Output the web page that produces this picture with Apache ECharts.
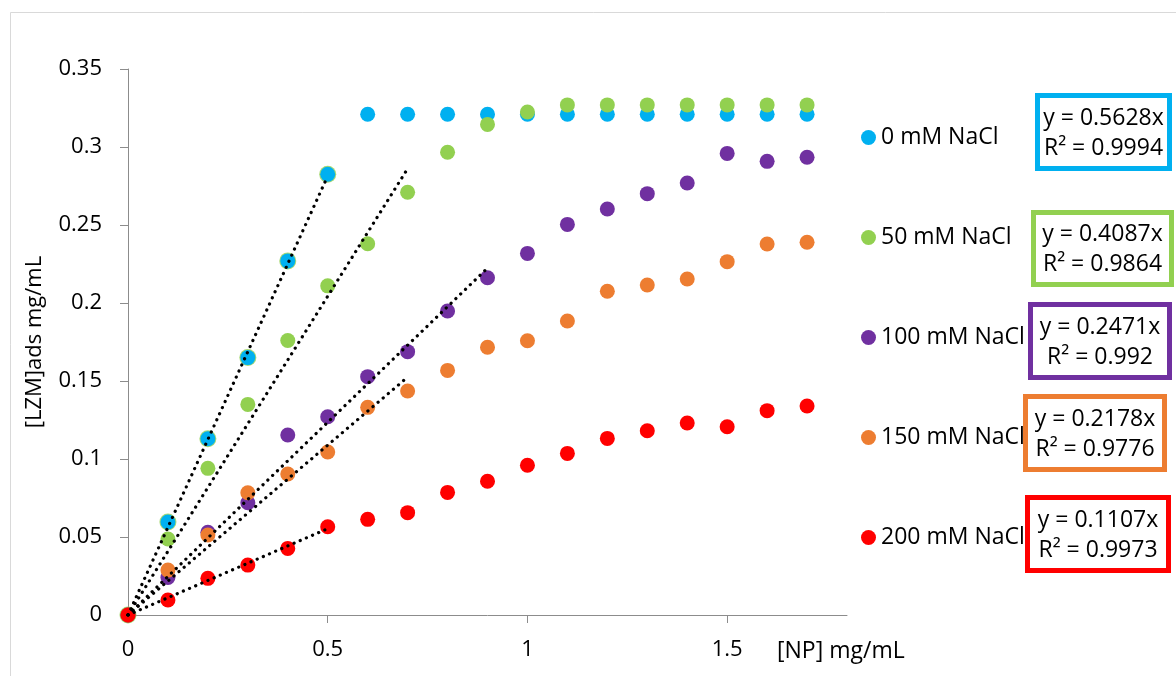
<!DOCTYPE html>
<html>
<head>
<meta charset="utf-8">
<script src="https://cdn.jsdelivr.net/npm/echarts@6/dist/echarts.min.js"></script>
<style>
  html, body { margin: 0; padding: 0; background: #fff; }
  #chart { width: 1176px; height: 676px; }
</style>
</head>
<body>
<div id="chart"></div>
<script>
// NP concentration (mg/mL) for every measurement
const npConc = [0, 0.1, 0.2, 0.3, 0.4, 0.5, 0.6, 0.7, 0.8, 0.9, 1.0, 1.1, 1.2, 1.3, 1.4, 1.5, 1.6, 1.7];

// Adsorbed lysozyme (mg/mL) at each salt concentration
const lzm0 = [0, 0.0596, 0.113, 0.165, 0.227, 0.2825, 0.321, 0.321, 0.321, 0.321, 0.321, 0.321, 0.321, 0.321, 0.321, 0.321, 0.321, 0.321];
const lzm50 = [0, 0.0487, 0.094, 0.135, 0.176, 0.211, 0.238, 0.271, 0.2966, 0.3145, 0.3224, 0.327, 0.327, 0.327, 0.327, 0.327, 0.327, 0.327];
const lzm100 = [0, 0.024, 0.053, 0.072, 0.1154, 0.1271, 0.1528, 0.1688, 0.1949, 0.2162, 0.2318, 0.2504, 0.2603, 0.2701, 0.2769, 0.2959, 0.2908, 0.2934];
const lzm150 = [0, 0.0288, 0.0513, 0.0784, 0.0904, 0.1045, 0.1331, 0.1436, 0.1568, 0.1716, 0.1758, 0.1885, 0.2075, 0.2115, 0.2154, 0.2265, 0.2378, 0.2389];
const lzm200 = [0, 0.0096, 0.0235, 0.032, 0.0427, 0.0566, 0.0613, 0.0656, 0.0786, 0.0857, 0.096, 0.1036, 0.1132, 0.1181, 0.1231, 0.1207, 0.131, 0.134];

const seriesNames = ['0 mM NaCl', '50 mM NaCl', '100 mM NaCl', '150 mM NaCl', '200 mM NaCl'];
const seriesColors = ['#00B0F0', '#92D050', '#7030A0', '#ED7D31', '#FF0000'];

// Linear fits through the origin (initial slope of each isotherm)
const fitSlopes = [0.5628, 0.4087, 0.2471, 0.2178, 0.1107];
const fitR2 = ['0.9994', '0.9864', '0.992', '0.9776', '0.9973'];
const fitMaxX = [0.5, 0.7, 0.9, 0.7, 0.5];

const xTickValues = [0, 0.5, 1, 1.5];

const FONT = '"Open Sans", "Noto Sans", sans-serif';
const allSeries = [lzm0, lzm50, lzm100, lzm150, lzm200];

const pairs = (ys) => npConc.map((x, i) => [x, ys[i]]);

const series = [];

// thin green halo under the 0 mM points used for its fit
series.push({
  type: 'scatter',
  name: 'fit-halo',
  data: pairs(lzm0).filter(p => p[0] <= fitMaxX[0]),
  symbolSize: 17,
  itemStyle: { color: '#92D050' },
  z: 2,
  silent: true
});

allSeries.forEach((ys, k) => {
  series.push({
    type: 'scatter',
    name: seriesNames[k],
    data: pairs(ys),
    symbol: 'circle',
    symbolSize: 15,
    itemStyle: { color: seriesColors[k], opacity: 1 },
    z: 2
  });
});

// dotted trendlines y = slope * x
fitSlopes.forEach((m, k) => {
  series.push({
    type: 'line',
    name: 'fit ' + seriesNames[k],
    data: [[0, 0], [fitMaxX[k], m * fitMaxX[k]]],
    showSymbol: false,
    symbol: 'none',
    lineStyle: { color: '#000', width: 3.2, type: [0.1, 6.6], cap: 'round' },
    z: 5,
    silent: true
  });
});

// equation / R² boxes beside the legend
const boxes = [
  { l: 1035, t: 93, r: 1172, b: 171 },
  { l: 1031, t: 210, r: 1174, b: 287 },
  { l: 1028, t: 302, r: 1172, b: 380 },
  { l: 1023, t: 394, r: 1167, b: 472 },
  { l: 1025, t: 495, r: 1171, b: 573 }
];
const BW = 5;
const graphics = [
  {
    type: 'rect',
    shape: { x: 10.5, y: 12.5, width: 1200, height: 700 },
    style: { fill: 'none', stroke: '#d9d9d9', lineWidth: 1 },
    z: 0
  },
  {
    type: 'text',
    style: { text: '[NP] mg/mL', x: 777, y: 651, verticalAlign: 'middle', font: '23px ' + FONT, fill: '#000' }
  }
];
boxes.forEach((bx, k) => {
  graphics.push({
    type: 'rect',
    shape: { x: bx.l + BW / 2, y: bx.t + BW / 2, width: bx.r - bx.l - BW, height: bx.b - bx.t - BW },
    style: { fill: '#fff', stroke: seriesColors[k], lineWidth: BW },
    z: 10
  });
  graphics.push({
    type: 'text',
    style: {
      text: 'y = ' + fitSlopes[k] + 'x\nR\u00B2 = ' + fitR2[k],
      x: (bx.l + bx.r) / 2, y: (bx.t + bx.b) / 2 + 1,
      align: 'center', verticalAlign: 'middle',
      font: '23px ' + FONT, lineHeight: 30, fill: '#000'
    },
    z: 11
  });
});

const chart = echarts.init(document.getElementById('chart'), null, { renderer: 'canvas' });
chart.setOption({
  backgroundColor: '#fff',
  animation: false,
  textStyle: { fontFamily: FONT },
  grid: { left: 128, top: 69, right: 329, bottom: 61, containLabel: false },
  legend: {
    data: seriesNames,
    orient: 'vertical',
    left: 856,
    top: 121,
    itemWidth: 15,
    itemHeight: 15,
    itemGap: 77,
    icon: 'circle',
    textStyle: { fontSize: 23, lineHeight: 23, color: '#000', fontFamily: FONT },
    selectedMode: false
  },
  xAxis: {
    type: 'value',
    min: 0,
    max: 1.8,
    interval: 0.5,
    splitLine: { show: false },
    axisLine: { show: true, onZero: false, lineStyle: { color: '#8c8c8c', width: 1 } },
    axisTick: { show: true, length: 8, lineStyle: { color: '#8c8c8c' }, customValues: xTickValues },
    axisLabel: { fontSize: 22, lineHeight: 22, color: '#000', margin: 24, customValues: xTickValues, fontFamily: FONT }
  },
  yAxis: {
    type: 'value',
    min: 0,
    max: 0.35,
    interval: 0.05,
    name: '[LZM]ads mg/mL',
    nameLocation: 'middle',
    nameGap: 82,
    nameRotate: 90,
    nameTextStyle: { fontSize: 22, color: '#000', fontFamily: FONT },
    splitLine: { show: false },
    axisLine: { show: true, lineStyle: { color: '#8c8c8c', width: 1 } },
    axisTick: { show: true, length: 8, lineStyle: { color: '#8c8c8c' } },
    axisLabel: { fontSize: 22, color: '#000', margin: 26, fontFamily: FONT }
  },
  graphic: graphics,
  series: series
});
</script>
</body>
</html>
